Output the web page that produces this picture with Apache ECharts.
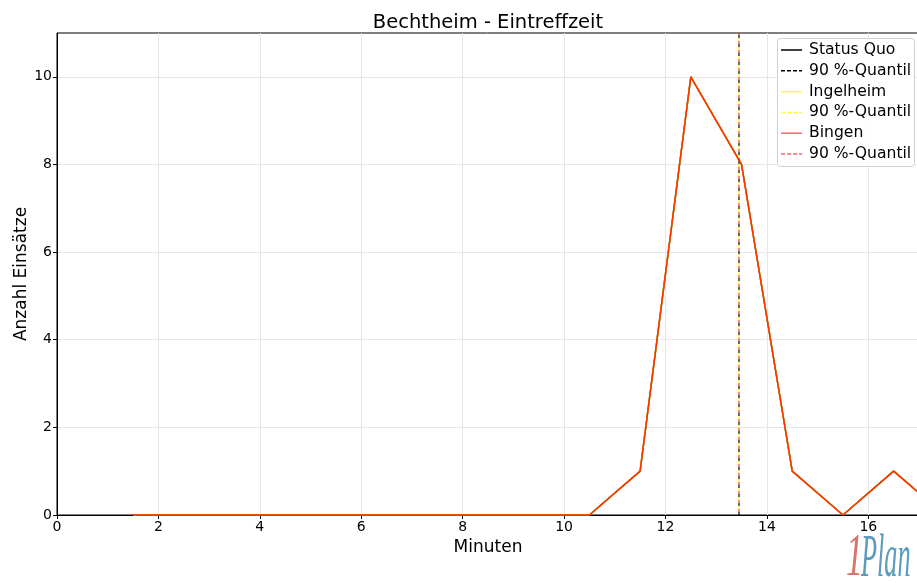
<!DOCTYPE html>
<html><head><meta charset="utf-8">
<script src="https://cdn.jsdelivr.net/npm/echarts@6/dist/echarts.min.js"></script>
<style>html,body{margin:0;padding:0;background:#fff}#c{width:917px;height:583px}</style>
</head><body><div id="c"></div>
<script>
const minutes = [1.5,2.5,3.5,4.5,5.5,6.5,7.5,8.5,9.5,10.5,11.5,12.5,13.5,14.5,15.5,16.5,17.5];
const statusQuo = [0,0,0,0,0,0,0,0,0,0,1,10,8,1,0,1,0];
const ingelheim = [0,0,0,0,0,0,0,0,0,0,1,10,8,1,0,1,0];
const bingen = [0,0,0,0,0,0,0,0,0,0,1,10,8,1,0,1,0];
const quantileSQ = 13.45, quantileIng = 13.45, quantileBin = 13.45;
const legendLabels = ['Status Quo','90 %-Quantil','Ingelheim','90 %-Quantil','Bingen','90 %-Quantil'];
const xTicks = [0,2,4,6,8,10,12,14,16];
const yTicks = [0,2,4,6,8,10];

const pairs = v => minutes.map((m,i)=>[m,v[i]]);
const vline = q => [[q,0],[q,11]];
const F = 'DejaVu Sans';
const colBlack = '#000000', colYellow = 'rgba(255,255,0,1)', colRed = 'rgba(255,0,0,0.8)';
const chart = echarts.init(document.getElementById('c'));
const legendStyles = [
  {c:'#000',d:'solid'},{c:'#000',d:[4,2]},
  {c:'rgba(255,255,0,0.8)',d:'solid'},{c:'rgba(255,255,0,0.8)',d:[4,2]},
  {c:'rgba(255,0,0,0.6)',d:'solid'},{c:'rgba(255,0,0,0.6)',d:[4,2]}];
const lg = [{type:'rect',left:777,top:38,shape:{width:137,height:128,r:3},style:{fill:'rgba(255,255,255,0.85)',stroke:'#d0d0d0',lineWidth:1},z:100}];
legendLabels.forEach((t,i)=>{
  const y = 50 + i*20.8;
  lg.push({type:'line',shape:{x1:781,y1:y,x2:802,y2:y},style:{stroke:legendStyles[i].c,lineWidth:1.5,lineDash:legendStyles[i].d==='solid'?null:legendStyles[i].d},z:101});
  lg.push({type:'text',x:809,y:y,style:{text:t,font:'15.6px "DejaVu Sans"',fill:'#000',textVerticalAlign:'middle',verticalAlign:'middle'},z:101});
});
lg.push({type:'text',x:846,y:590,scaleX:0.85,scaleY:1.55,style:{x:0,y:0,text:'1',font:'italic 40px "Liberation Serif"',fill:'#d9736c',verticalAlign:'bottom',textVerticalAlign:'bottom'},z:101});
lg.push({type:'text',x:861,y:590,scaleX:0.69,scaleY:1.6,style:{x:0,y:0,text:'Plan',font:'italic 38px "Liberation Serif"',fill:'#5b9cbf',verticalAlign:'bottom',textVerticalAlign:'bottom'},z:101});

chart.setOption({
  animation:false,
  title:{text:'Bechtheim - Eintreffzeit',left:483,textAlign:'center',top:8,textStyle:{fontFamily:F,fontSize:19.5,fontWeight:'normal',color:'#000'}},
  grid:{left:57,top:33,width:862,height:482,show:true,borderColor:'#000',borderWidth:1,containLabel:false,outerBoundsMode:'none'},
  xAxis:{type:'value',min:0,max:17,interval:2,name:'Minuten',nameLocation:'middle',nameGap:24,nameMoveOverlap:false,
    nameTextStyle:{fontFamily:F,fontSize:17,color:'#000'},
    axisLine:{lineStyle:{color:'#000'}},axisTick:{show:true,length:4,lineStyle:{color:'#000'},customValues:xTicks},
    axisLabel:{fontFamily:F,fontSize:14,color:'#000',margin:5,customValues:xTicks},
    splitLine:{show:true,lineStyle:{color:'#e6e6e6'}}},
  yAxis:{type:'value',min:0,max:11,interval:2,name:'Anzahl Einsätze',nameLocation:'middle',nameGap:27,nameMoveOverlap:false,
    nameTextStyle:{fontFamily:F,fontSize:17,color:'#000'},
    axisLine:{show:true,lineStyle:{color:'#000'}},axisTick:{show:true,length:4,lineStyle:{color:'#000'},customValues:yTicks},
    axisLabel:{fontFamily:F,fontSize:14,color:'#000',margin:5,customValues:yTicks},
    splitLine:{show:true,lineStyle:{color:'#e6e6e6'}}},
  series:[
    {name:'Status Quo',type:'line',data:pairs(statusQuo),showSymbol:false,lineStyle:{color:colBlack,width:1.5},z:2},
    {name:'SQ Q',type:'line',data:vline(quantileSQ),showSymbol:false,lineStyle:{color:colBlack,width:1.2,type:[3,6],dashOffset:0},z:2},
    {name:'Ingelheim',type:'line',data:pairs(ingelheim),showSymbol:false,lineStyle:{color:colYellow,width:1.5},z:3},
    {name:'Ing Q',type:'line',data:vline(quantileIng),showSymbol:false,lineStyle:{color:colYellow,width:1.2,type:[3,6],dashOffset:3},z:3},
    {name:'Bingen',type:'line',data:pairs(bingen),showSymbol:false,lineStyle:{color:colRed,width:1.5},z:4},
    {name:'Bin Q',type:'line',data:vline(quantileBin),showSymbol:false,lineStyle:{color:colRed,width:1.2,type:[3,6],dashOffset:6},z:4}
  ],
  graphic:lg
});
</script></body></html>
